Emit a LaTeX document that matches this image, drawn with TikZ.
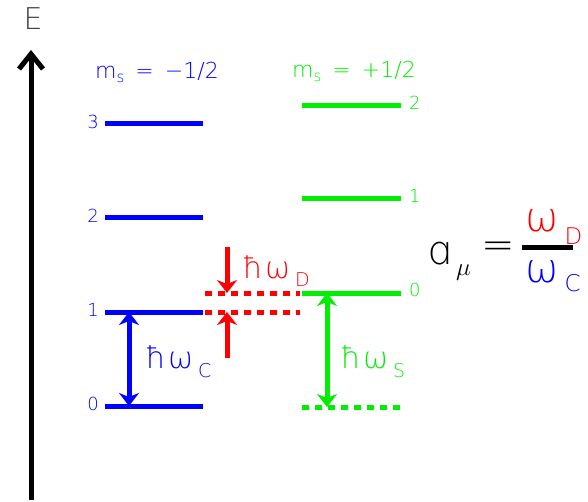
\documentclass[tikz,border=0pt]{standalone}
\usepackage{fontspec}
\setmainfont{DejaVu Sans ExtraLight}
\usepackage{tikz}
\usetikzlibrary{arrows.meta,positioning}

\definecolor{lvlblue}{RGB}{0,0,255}
\definecolor{lvlgreen}{RGB}{0,238,0}
\definecolor{lvlred}{RGB}{255,0,0}
\definecolor{axisgray}{RGB}{64,64,64}
\newcommand{\fsz}[1]{\fontsize{#1}{#1}\selectfont}

\begin{document}
\begin{tikzpicture}[
  x=1pt,y=-1pt,
  level/.style={line width=5pt},
  virt/.style={line width=5pt,dash pattern=on 7pt off 6pt},
  trans/.style={line width=5pt,{Stealth[length=13pt,width=20pt,inset=4pt]}-{Stealth[length=13pt,width=20pt,inset=4pt]}},
  shiftarr/.style={line width=5pt,-{Stealth[length=13pt,width=20pt,inset=4pt]}},
  num/.style={inner sep=0pt,font=\fsz{18}},
  big/.style={inner sep=0pt,anchor=base west,font=\fsz{30}}
]
\useasboundingbox (0,0) rectangle (588,502);

% energy axis
\coordinate (ax0) at (31,500);
\coordinate (ax1) at (31,50);
\draw[line width=5pt,-{Straight Barb[length=15pt,width=24pt]}] (ax0) -- (ax1);
\node[font=\fsz{30},text=axisgray,inner sep=0pt] (elab) at (33,19) {E};

% m_s = -1/2 levels
\node[font=\fsz{22},text=lvlblue] (mneg) at (157,72) {m\raisebox{-4pt}{\fsz{15}s}\hspace{11pt}=\hspace{11pt}−1/2};
\foreach \n/\y in {0/406,1/312,2/218,3/124}{
  \coordinate (b\n l) at (105,\y);
  \coordinate (b\n r) at (203,\y);
  \draw[level,lvlblue] (b\n l) -- (b\n r);
  \node[num,text=lvlblue,anchor=east] (bn\n) at ([xshift=-6pt,yshift=2pt]b\n l) {\n};
}

% m_s = +1/2 levels
\node[font=\fsz{22},text=lvlgreen] (mpos) at (354,71) {m\raisebox{-4pt}{\fsz{15}s}\hspace{11pt}=\hspace{11pt}+1/2};
\foreach \n/\y in {0/293,1/199,2/106}{
  \coordinate (g\n l) at (302,\y);
  \coordinate (g\n r) at (401,\y);
  \draw[level,lvlgreen] (g\n l) -- (g\n r);
  \node[num,text=lvlgreen,anchor=west] (gn\n) at ([xshift=8pt,yshift=3pt]g\n r) {\n};
}
\coordinate (gvl) at (302,407);
\coordinate (gvr) at (401,407);
\draw[virt,lvlgreen] (gvl) -- (gvr);

% dotted continuation
\coordinate (ruL) at (205,293);
\coordinate (ruR) at (300,293);
\coordinate (rlL) at (205,312);
\coordinate (rlR) at (300,312);
\draw[virt,lvlred] (ruL) -- (ruR);
\draw[virt,lvlred] (rlL) -- (rlR);

% transitions
\coordinate (bc0) at (129,406);
\coordinate (bc1) at (129,312);
\draw[trans,lvlblue] (bc0) -- (bc1);
\node[big,text=lvlblue] (hwc) at (145,368) {ħ\hspace{2pt}ω\hspace{5pt}\raisebox{-9pt}{\fsz{19}C}};

\coordinate (gc0) at (327,407);
\coordinate (gc1) at (327,293);
\draw[trans,lvlgreen] (gc0) -- (gc1);
\node[big,text=lvlgreen] (hws) at (340,368) {ħ\hspace{2pt}ω\hspace{5pt}\raisebox{-9pt}{\fsz{19}S}};

\coordinate (rtop) at (227,247);
\coordinate (rbot) at (227,358);
\draw[shiftarr,lvlred] (rtop) -- (ruL -| rtop);
\draw[shiftarr,lvlred] (rbot) -- (rlL -| rbot);
\node[big,text=lvlred] (hwd) at (242,278) {ħ\hspace{2pt}ω\hspace{5pt}\raisebox{-9pt}{\fsz{19}D}};

% a_mu = omega_D / omega_C
\node[inner sep=0pt,anchor=base west,font=\fsz{40}] (amu) at (426,265) {ɑ};
\node[inner sep=0pt,anchor=base west] (mu) at (456,276) {\fsz{28}$\mu$};
\node[inner sep=0pt,font=\fsz{40}] (eq) at (498,250) {=};
\coordinate (fb1) at (522,248);
\coordinate (fb2) at (573,248);
\draw[line width=5pt] (fb1) -- (fb2);
\node[inner sep=0pt,anchor=base west,font=\fsz{40},text=lvlred] (wd) at (525,232) {ω\hspace{6pt}\raisebox{-13pt}{\fsz{23}D}};
\node[inner sep=0pt,anchor=base west,font=\fsz{40},text=lvlblue] (wc) at (525,283) {ω\hspace{6pt}\raisebox{-9pt}{\fsz{23}C}};
\end{tikzpicture}
\end{document}
